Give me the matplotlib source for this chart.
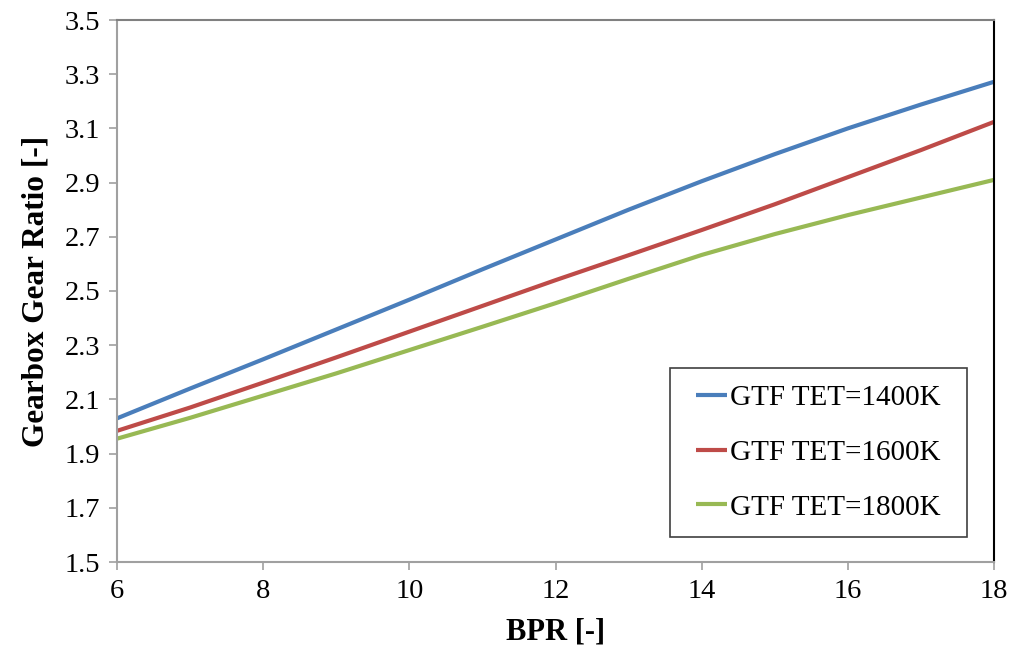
import matplotlib
matplotlib.use("Agg")
import matplotlib.pyplot as plt
from matplotlib.patches import Rectangle

bpr = [6, 7, 8, 9, 10, 11, 12, 13, 14, 15, 16, 17, 18]
gr_1400 = [2.030, 2.140, 2.248, 2.358, 2.468, 2.580, 2.690, 2.800, 2.905, 3.005, 3.100, 3.188, 3.272]
gr_1600 = [1.984, 2.070, 2.162, 2.255, 2.350, 2.445, 2.540, 2.632, 2.725, 2.820, 2.920, 3.020, 3.124]
gr_1800 = [1.955, 2.032, 2.114, 2.196, 2.282, 2.368, 2.455, 2.545, 2.633, 2.710, 2.780, 2.845, 2.910]
labels = ["GTF TET=1400K", "GTF TET=1600K", "GTF TET=1800K"]
colors = ["#4A7EBB", "#BE4B48", "#98B954"]
xticks = [6, 8, 10, 12, 14, 16, 18]
yticks = [1.5, 1.7, 1.9, 2.1, 2.3, 2.5, 2.7, 2.9, 3.1, 3.3, 3.5]

plt.rcParams["font.family"] = ["Liberation Serif", "DejaVu Serif"]

W, H = 1011, 650
fig = plt.figure(figsize=(W / 100, H / 100), dpi=100)
ax = fig.add_axes([117 / W, 1 - 562 / H, (994 - 117) / W, (562 - 20) / H])

for ys, lab, col in zip([gr_1400, gr_1600, gr_1800], labels, colors):
    ax.plot(bpr, ys, color=col, lw=3.0, label=lab, solid_capstyle="butt",
            solid_joinstyle="round")

ax.set_xlim(6, 18)
ax.set_ylim(1.5, 3.5)
ax.set_xticks(xticks)
ax.set_yticks(yticks)
ax.set_xticklabels([str(v) for v in xticks])
ax.set_yticklabels([f"{v:.1f}" for v in yticks])
ax.tick_params(axis="both", direction="out", length=6, width=1.2, color="#A0A0A0",
               labelsize=20.5, pad=6)

ax.spines["left"].set_color("#A0A0A0")
ax.spines["bottom"].set_color("#A0A0A0")
ax.spines["top"].set_color("#808080")
ax.spines["right"].set_color("#000000")
for s in ax.spines.values():
    s.set_linewidth(1.5)

ax.set_xlabel("BPR [-]", fontsize=22, fontweight="bold", labelpad=10)
ax.set_ylabel("Gearbox Gear Ratio [-]", fontsize=22.5, fontweight="bold", labelpad=10)

# legend box drawn as a plain rectangle, entries placed inside it
fig.patches.append(Rectangle((670 / W, 1 - 537 / H), (967 - 670) / W, (537 - 368) / H,
                             transform=fig.transFigure, fill=False,
                             edgecolor="#404040", linewidth=1.2, zorder=5))
leg = ax.legend(loc="center", bbox_to_anchor=((670 + 967) / 2 / W, 1 - (368 + 537) / 2 / H),
                bbox_transform=fig.transFigure, fontsize=21, frameon=False,
                handlelength=1.05, handletextpad=0.1, labelspacing=0.98, borderpad=0,
                borderaxespad=0)

fig.savefig("out.png", dpi=100)
